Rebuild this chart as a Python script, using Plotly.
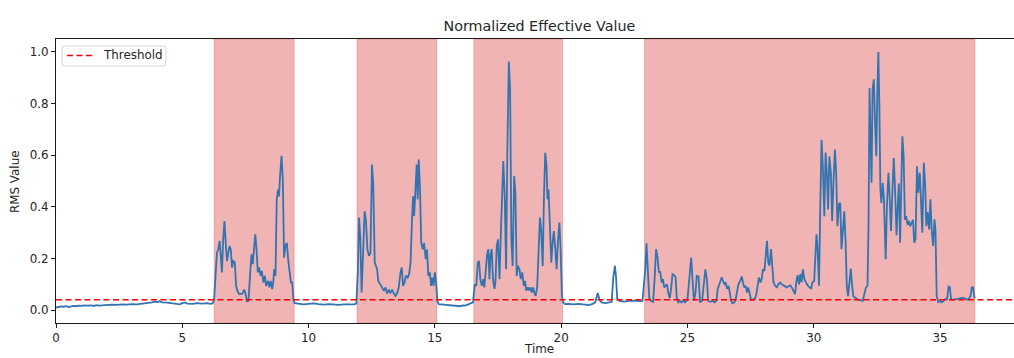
import plotly.graph_objects as go

# ---- data ----
time_s = [
    0.0, 0.1, 0.2, 0.3, 0.4, 0.5, 0.6, 0.7, 0.8, 0.9, 1.0, 1.1, 1.2, 1.3, 1.4, 1.5, 1.6, 1.7, 1.8, 1.9,
    2.0, 2.2, 2.4, 2.6, 2.8, 3.0, 3.2, 3.4, 3.6, 3.8, 3.9, 4.0, 4.1, 4.2, 4.4, 4.6, 4.8, 4.9, 5.0, 5.1,
    5.2, 5.4, 5.6, 5.8, 6.0, 6.1, 6.2,
    6.26, 6.37, 6.42, 6.48, 6.52, 6.57, 6.62, 6.67, 6.72, 6.77, 6.82, 6.87, 6.92, 6.97, 7.02, 7.08, 7.13,
    7.18, 7.25, 7.38, 7.45, 7.50, 7.56, 7.62, 7.69, 7.74, 7.79, 7.84, 7.89, 7.94, 7.99, 8.04, 8.10, 8.15,
    8.21, 8.27, 8.32, 8.40, 8.45, 8.50, 8.56, 8.60, 8.64, 8.69, 8.74, 8.79, 8.83, 8.87, 8.93, 8.98, 9.03,
    9.08, 9.14, 9.19, 9.25, 9.30, 9.35, 9.40, 9.45,
    9.6, 9.8, 10.0, 10.2, 10.4, 10.6, 10.8, 11.0, 11.2, 11.4, 11.6, 11.8, 11.89,
    11.95, 12.00, 12.05, 12.10, 12.16, 12.22, 12.27, 12.33, 12.39, 12.45, 12.51, 12.56, 12.62, 12.66,
    12.71, 12.76, 12.85, 12.91, 12.98, 13.05, 13.11, 13.18, 13.24, 13.31, 13.37, 13.44, 13.51, 13.57,
    13.64, 13.69, 13.74, 13.80, 13.85, 13.92, 13.98, 14.04, 14.10, 14.14, 14.18, 14.22, 14.28, 14.32,
    14.36, 14.41, 14.46, 14.52, 14.57, 14.64, 14.69, 14.74, 14.80, 14.85, 14.90, 14.95, 15.00, 15.05,
    15.10, 15.15,
    15.3, 15.5, 15.7, 15.9, 16.0, 16.1, 16.2, 16.3, 16.4, 16.51,
    16.58, 16.64, 16.70, 16.75, 16.80, 16.86, 16.91, 16.96, 17.02, 17.07, 17.12, 17.16, 17.20, 17.25,
    17.30, 17.36, 17.40, 17.45, 17.50, 17.56, 17.61, 17.66, 17.71, 17.77, 17.82, 17.87, 17.93, 17.98,
    18.03, 18.08, 18.14, 18.19, 18.24, 18.29, 18.35, 18.40, 18.46, 18.52, 18.57, 18.62, 18.68, 18.73,
    18.78, 18.84, 18.89, 18.94, 18.99, 19.05, 19.10, 19.16, 19.21, 19.27, 19.32, 19.37, 19.42, 19.46,
    19.50, 19.55, 19.61, 19.66, 19.71, 19.77, 19.82, 19.87, 19.93, 19.98, 20.03, 20.08, 20.15,
    20.3, 20.5, 20.7, 20.9, 21.09, 21.25, 21.35, 21.45, 21.52, 21.6, 21.75, 21.9, 22.0, 22.07, 22.13,
    22.17, 22.22, 22.3, 22.5, 22.7, 22.9, 23.1, 23.22,
    23.33, 23.38, 23.43, 23.49, 23.55, 23.64, 23.70, 23.76, 23.82, 23.87, 23.92, 23.98, 24.03, 24.08,
    24.14, 24.19, 24.24, 24.30, 24.35, 24.41, 24.48, 24.53, 24.58, 24.64, 24.70, 24.77, 24.84, 24.90,
    25.00, 25.07, 25.15, 25.20, 25.26, 25.32, 25.37, 25.44, 25.50, 25.58, 25.64, 25.71, 25.77, 25.82,
    25.90, 26.00, 26.07, 26.15, 26.20, 26.26, 26.31, 26.36, 26.42, 26.47, 26.52, 26.57, 26.63, 26.68,
    26.73, 26.78, 26.86, 26.91, 26.97, 27.02, 27.09, 27.15, 27.20, 27.25, 27.31, 27.36, 27.41, 27.47,
    27.52, 27.60, 27.68, 27.73, 27.78, 27.83, 27.89, 27.94, 27.99, 28.05, 28.10, 28.15, 28.20, 28.25,
    28.31, 28.36, 28.41, 28.47, 28.54, 28.60, 28.67, 28.73, 28.80, 28.87, 28.93, 29.00, 29.07, 29.13,
    29.20, 29.26, 29.31, 29.36, 29.42, 29.47, 29.52, 29.57, 29.63, 29.68, 29.73, 29.78,
    29.84, 29.90, 29.94, 30.02, 30.06, 30.11, 30.15, 30.21, 30.26, 30.31, 30.36, 30.42, 30.47, 30.52,
    30.57, 30.62, 30.68, 30.73, 30.78, 30.84, 30.89, 30.94, 31.00, 31.05, 31.10, 31.15, 31.21, 31.26,
    31.31, 31.36, 31.42, 31.47, 31.52, 31.57, 31.65, 31.73, 31.84, 31.94, 32.02, 32.07, 32.13, 32.17,
    32.21, 32.25, 32.29, 32.33, 32.38, 32.43, 32.48, 32.52, 32.56, 32.60, 32.64, 32.68, 32.73, 32.78,
    32.85, 32.90, 32.96, 33.01, 33.06, 33.12, 33.17, 33.22, 33.28, 33.33, 33.37, 33.42, 33.47, 33.51,
    33.56, 33.61, 33.66, 33.72, 33.77, 33.82, 33.88, 33.93, 33.98, 34.03, 34.09, 34.14, 34.20, 34.25,
    34.30, 34.36, 34.41, 34.46, 34.51, 34.57, 34.62, 34.67, 34.73, 34.78, 34.82, 34.87, 34.93, 35.00,
    35.06, 35.14, 35.20, 35.28, 35.34, 35.39, 35.44, 35.52, 35.62, 35.73, 35.83, 35.91, 35.99, 36.07,
    36.15, 36.21, 36.26, 36.31, 36.37,
]

rms_value = [
    0.010, 0.012, 0.014, 0.013, 0.015, 0.012, 0.014, 0.016, 0.015, 0.017, 0.016, 0.018, 0.017, 0.019, 0.018, 0.016, 0.019, 0.017, 0.018, 0.020,
    0.019, 0.021, 0.020, 0.022, 0.021, 0.023, 0.022, 0.024, 0.026, 0.030, 0.033, 0.031, 0.034, 0.030, 0.029, 0.026, 0.024, 0.022, 0.027, 0.030,
    0.025, 0.024, 0.027, 0.025, 0.027, 0.024, 0.026,
    0.040, 0.220, 0.235, 0.268, 0.220, 0.146, 0.274, 0.345, 0.260, 0.190, 0.220, 0.248, 0.235, 0.165, 0.190, 0.185, 0.094,
    0.075, 0.062, 0.064, 0.079, 0.066, 0.034, 0.036, 0.146, 0.216, 0.178, 0.248, 0.293, 0.235, 0.146, 0.165, 0.133, 0.152,
    0.107, 0.133, 0.094, 0.113, 0.088, 0.113, 0.081, 0.107, 0.159, 0.133, 0.429, 0.467, 0.440, 0.519, 0.598, 0.506, 0.203,
    0.248, 0.260, 0.197, 0.146, 0.107, 0.107, 0.040, 0.027,
    0.025, 0.022, 0.024, 0.026, 0.023, 0.021, 0.023, 0.022, 0.020, 0.022, 0.021, 0.022, 0.025,
    0.146, 0.358, 0.274, 0.068, 0.235, 0.383, 0.350, 0.235, 0.210, 0.220, 0.564, 0.490, 0.184, 0.170,
    0.160, 0.113, 0.094, 0.088, 0.075, 0.088, 0.064, 0.079, 0.066, 0.079, 0.066, 0.055, 0.066, 0.088,
    0.146, 0.165, 0.094, 0.107, 0.133, 0.126, 0.139, 0.185, 0.364, 0.441, 0.364, 0.441, 0.564, 0.429,
    0.583, 0.480, 0.260, 0.235, 0.260, 0.197, 0.235, 0.133, 0.146, 0.094, 0.126, 0.094, 0.146, 0.107,
    0.036, 0.023,
    0.022, 0.020, 0.019, 0.016, 0.015, 0.018, 0.017, 0.021, 0.024, 0.030,
    0.100, 0.094, 0.184, 0.190, 0.120, 0.094, 0.120, 0.088, 0.160, 0.216, 0.236, 0.120, 0.210, 0.236,
    0.120, 0.082, 0.110, 0.248, 0.274, 0.120, 0.290, 0.467, 0.577, 0.430, 0.158, 0.620, 0.963, 0.850,
    0.274, 0.171, 0.519, 0.450, 0.132, 0.171, 0.158, 0.120, 0.146, 0.094, 0.113, 0.075, 0.088, 0.076,
    0.088, 0.068, 0.088, 0.068, 0.055, 0.088, 0.223, 0.358, 0.310, 0.171, 0.440, 0.609, 0.560, 0.429,
    0.467, 0.300, 0.184, 0.260, 0.306, 0.236, 0.158, 0.260, 0.339, 0.236, 0.055, 0.030, 0.023,
    0.024, 0.022, 0.024, 0.021, 0.019, 0.024, 0.030, 0.066, 0.040, 0.030, 0.027, 0.030, 0.032, 0.132, 0.171,
    0.132, 0.045, 0.036, 0.033, 0.036, 0.037, 0.035, 0.036,
    0.158, 0.259, 0.158, 0.046, 0.036, 0.032, 0.120, 0.236, 0.200, 0.146, 0.150, 0.107, 0.120, 0.088,
    0.095, 0.100, 0.068, 0.046, 0.080, 0.139, 0.135, 0.126, 0.046, 0.030, 0.036, 0.030, 0.038, 0.030,
    0.040, 0.120, 0.203, 0.120, 0.036, 0.068, 0.132, 0.130, 0.030, 0.036, 0.107, 0.158, 0.120, 0.036,
    0.032, 0.036, 0.030, 0.036, 0.082, 0.100, 0.120, 0.127, 0.110, 0.100, 0.107, 0.082, 0.094, 0.055,
    0.036, 0.026, 0.030, 0.042, 0.082, 0.100, 0.113, 0.130, 0.107, 0.088, 0.094, 0.068, 0.088, 0.062,
    0.040, 0.040, 0.046, 0.062, 0.107, 0.126, 0.107, 0.120, 0.158, 0.152, 0.210, 0.268, 0.185, 0.172,
    0.236, 0.158, 0.107, 0.094, 0.088, 0.100, 0.107, 0.100, 0.096, 0.094, 0.088, 0.092, 0.096, 0.088,
    0.075, 0.062, 0.107, 0.135, 0.100, 0.139, 0.107, 0.158, 0.120, 0.107, 0.100, 0.094,
    0.088, 0.082, 0.106, 0.113, 0.200, 0.293, 0.245, 0.094, 0.400, 0.660, 0.560, 0.364, 0.610, 0.530,
    0.390, 0.596, 0.530, 0.345, 0.490, 0.622, 0.530, 0.325, 0.410, 0.415, 0.236, 0.325, 0.383, 0.270,
    0.094, 0.054, 0.120, 0.161, 0.094, 0.054, 0.048, 0.042, 0.039, 0.036, 0.068, 0.088, 0.094, 0.325,
    0.860, 0.660, 0.493, 0.855, 0.894, 0.720, 0.596, 0.855, 1.000, 0.790, 0.467, 0.415, 0.493, 0.430,
    0.197, 0.410, 0.532, 0.430, 0.306, 0.470, 0.589, 0.470, 0.290, 0.410, 0.490, 0.261, 0.530, 0.673,
    0.596, 0.350, 0.364, 0.330, 0.345, 0.325, 0.338, 0.350, 0.261, 0.274, 0.557, 0.455, 0.532, 0.442,
    0.300, 0.571, 0.490, 0.325, 0.380, 0.312, 0.429, 0.312, 0.249, 0.352, 0.312, 0.054, 0.031, 0.035,
    0.030, 0.035, 0.042, 0.042, 0.091, 0.088, 0.042, 0.040, 0.042, 0.045, 0.049, 0.048, 0.045, 0.040,
    0.045, 0.055, 0.088, 0.088, 0.045,
]

threshold = 0.04
threshold_label = "Threshold"
span_starts = [6.26, 11.92, 16.54, 23.30]
span_ends = [9.43, 15.08, 20.06, 36.38]

x_range = [0, 37.93]
y_range = [-0.05, 1.05]
x_ticks = [0, 5, 10, 15, 20, 25, 30, 35]
y_ticks = [0.0, 0.2, 0.4, 0.6, 0.8, 1.0]

FONT = "DejaVu Sans"
TXT = "#262626"
RED = "red"
DASH = "6px,3.5px"

fig = go.Figure()

fig.add_trace(go.Scatter(
    x=time_s, y=rms_value, mode="lines",
    line=dict(color="#3274b0", width=1.8),
    showlegend=False, hoverinfo="skip",
))

fig.add_trace(go.Scatter(
    x=x_range, y=[threshold, threshold], mode="lines",
    name=threshold_label, showlegend=False,
    line=dict(color=RED, width=1.5, dash=DASH),
))

for s, e in zip(span_starts, span_ends):
    fig.add_shape(
        type="rect", xref="x", yref="paper", x0=s, x1=e, y0=0, y1=1,
        fillcolor="rgba(214,39,40,0.35)",
        line=dict(color="rgba(214,39,40,0.25)", width=1),
        layer="below",
    )

# matplotlib-style legend box (top-left, rounded corners)
lx0, lx1, ly0, ly1 = 0.0063, 0.1148, 0.9049, 0.9754
rx, ry = 0.0031, 0.0106
legend_path = (
    f"M {lx0+rx},{ly1} L {lx1-rx},{ly1} Q {lx1},{ly1} {lx1},{ly1-ry} "
    f"L {lx1},{ly0+ry} Q {lx1},{ly0} {lx1-rx},{ly0} "
    f"L {lx0+rx},{ly0} Q {lx0},{ly0} {lx0},{ly0+ry} "
    f"L {lx0},{ly1-ry} Q {lx0},{ly1} {lx0+rx},{ly1} Z"
)
fig.add_shape(type="path", xref="paper", yref="paper", path=legend_path,
              fillcolor="rgba(255,255,255,0.8)", line=dict(color="#d6d6d6", width=1),
              layer="above")
fig.add_shape(type="line", xref="paper", yref="paper",
              x0=0.0115, x1=0.0376, y0=0.9420, y1=0.9420,
              line=dict(color=RED, width=1.5, dash=DASH), layer="above")

fig.update_layout(
    width=1014, height=358,
    margin=dict(l=56, r=0, t=39, b=35),
    paper_bgcolor="white", plot_bgcolor="white",
    font=dict(family=FONT, size=11.9, color=TXT),
    title=dict(
        text="Normalized Effective Value",
        font=dict(family=FONT, size=14.3, color=TXT),
        xref="paper", x=0.5046, xanchor="center",
        yref="container", y=1 - 25.5 / 358, yanchor="middle",
    ),
    showlegend=False,
    xaxis=dict(
        range=x_range, tickmode="array", tickvals=x_ticks,
        ticktext=[str(v) for v in x_ticks],
        showgrid=False, zeroline=False,
        showline=True, linecolor="#1a1a1a", linewidth=1, mirror=True,
        ticks="outside", ticklen=4, tickwidth=1, tickcolor="#1a1a1a",
    ),
    yaxis=dict(
        range=y_range, tickmode="array", tickvals=y_ticks,
        ticktext=["%.1f" % v for v in y_ticks],
        showgrid=False, zeroline=False,
        showline=True, linecolor="#1a1a1a", linewidth=1,
        ticks="outside", ticklen=4, tickwidth=1, tickcolor="#1a1a1a",
    ),
    annotations=[
        dict(text="Time", xref="paper", yref="paper", x=0.5046, y=-0.1225,
             xanchor="center", yanchor="bottom", showarrow=False,
             font=dict(family=FONT, size=11.9, color=TXT)),
        dict(text="RMS Value", xref="paper", yref="paper", x=-0.0428, y=0.5,
             xanchor="center", yanchor="middle", showarrow=False, textangle=-90,
             font=dict(family=FONT, size=11.9, color=TXT)),
        dict(text=threshold_label, xref="paper", yref="paper", x=0.0470, y=0.9420,
             xanchor="left", yanchor="middle", showarrow=False,
             font=dict(family=FONT, size=11.9, color=TXT)),
    ],
)

fig.write_html("out.html")
